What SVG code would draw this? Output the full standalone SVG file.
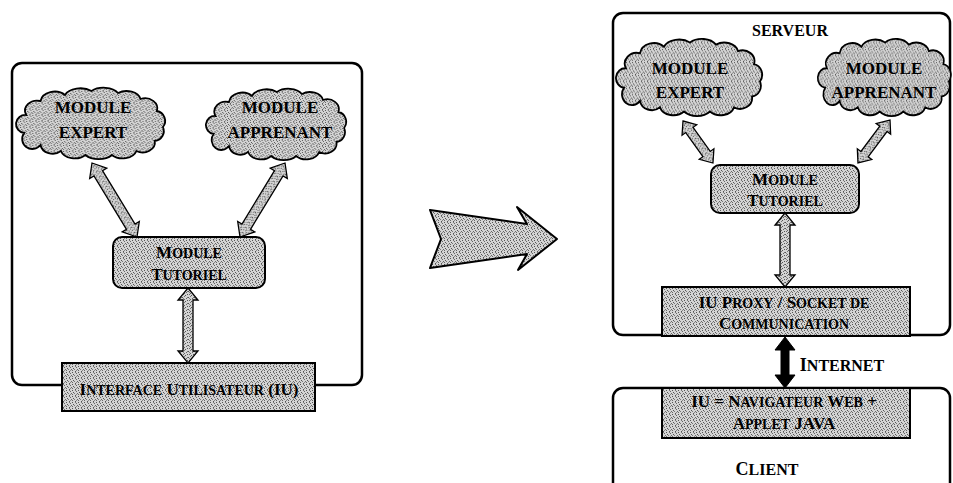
<svg xmlns="http://www.w3.org/2000/svg" width="953" height="483" viewBox="0 0 953 483">
  <defs>
    <pattern id="stip" width="6" height="6" patternUnits="userSpaceOnUse">
      <rect width="6" height="6" fill="#d4d4d4"/>
      <rect x="0" y="0" width="1" height="1" fill="#555"/>
      <rect x="3" y="0" width="1" height="1" fill="#777"/>
      <rect x="4" y="1" width="1" height="1" fill="#666"/>
      <rect x="1" y="2" width="1" height="1" fill="#555"/>
      <rect x="5" y="3" width="1" height="1" fill="#666"/>
      <rect x="2" y="3" width="1" height="1" fill="#777"/>
      <rect x="0" y="4" width="1" height="1" fill="#666"/>
      <rect x="3" y="5" width="1" height="1" fill="#555"/>
      <rect x="4" y="4" width="1" height="1" fill="#888"/>
    </pattern>
    <path id="cloud" d="M12,30 a12,10 0 0 1 14,-14 a14,11 0 0 1 24,-6 a16,10 0 0 1 26,-4 a16,10 0 0 1 26,2 a14,10 0 0 1 22,6 a12,10 0 0 1 16,12 a10,10 0 0 1 6,16 a10,10 0 0 1 -8,14 a12,10 0 0 1 -18,10 a14,10 0 0 1 -24,4 a16,10 0 0 1 -26,0 a14,10 0 0 1 -24,-4 a12,10 0 0 1 -20,-6 a10,10 0 0 1 -16,-12 a9,9 0 0 1 2,-18 Z"/>
  </defs>
  <style>
    .panel { fill: #fff; stroke: #000; stroke-width: 2.5; }
    .box { fill: url(#stip); stroke: #000; stroke-width: 2; }
    .cl { fill: url(#stip); stroke: #000; stroke-width: 1.8; }
    .arr { fill: url(#stip); stroke: #000; stroke-width: 1.3; stroke-linejoin: miter; }
    .blk { fill: #000; stroke: #000; stroke-width: 1; }
    .big { fill: url(#stip); stroke: #000; stroke-width: 2; stroke-linejoin: round; }
    text { font-family: "Liberation Serif", "Times New Roman", serif; font-weight: bold; fill: #000; text-anchor: middle; font-size: 17px; }
    .sm { font-size: 14px; }
  </style>

  <!-- Containers -->
  <g id="left-panel">
    <rect class="panel" x="12" y="63" width="350" height="322" rx="10"/>
  </g>
  <g id="serveur">
    <rect class="panel" x="613" y="13" width="337" height="322" rx="10"/>
    <text x="790" y="36" style="font-size:16px">SERVEUR</text>
  </g>
  <g id="client">
    <rect class="panel" x="613" y="388" width="337" height="130" rx="10"/>
    <text x="767" y="475" style="font-size:18px">C<tspan style="font-size:16px">LIENT</tspan></text>
  </g>

  <g id="connectors">
    <!-- left -->
    <polygon class="arr" transform="translate(92,163) rotate(58.7)" points="0,0 12,-10 12,-5 74.6,-5 74.6,-10 86.6,0 74.6,10 74.6,5 12,5 12,10"/>
    <polygon class="arr" transform="translate(285,163) rotate(121.3)" points="0,0 12,-10 12,-5 74.6,-5 74.6,-10 86.6,0 74.6,10 74.6,5 12,5 12,10"/>
    <polygon class="arr" transform="translate(188,288) rotate(90)" points="0,0 12,-10 12,-5 63,-5 63,-10 75,0 63,10 63,5 12,5 12,10"/>
    <!-- right -->
    <polygon class="arr" transform="translate(683,121) rotate(54.5)" points="0,0 11,-9 11,-4.5 40.6,-4.5 40.6,-9 51.6,0 40.6,9 40.6,4.5 11,4.5 11,9"/>
    <polygon class="arr" transform="translate(890,120) rotate(126.7)" points="0,0 11,-9 11,-4.5 42.6,-4.5 42.6,-9 53.6,0 42.6,9 42.6,4.5 11,4.5 11,9"/>
    <polygon class="arr" transform="translate(785,213) rotate(90)" points="0,0 12,-10 12,-5 62,-5 62,-10 74,0 62,10 62,5 12,5 12,10"/>
    <polygon class="blk" transform="translate(785,337) rotate(90)" points="0,0 13,-10 13,-4 38,-4 38,-10 51,0 38,10 38,4 13,4 13,10"/>
    <!-- big transition arrow -->
    <polygon class="big" points="430,210 527,224 517,207 557,239 518,270 527,254 430,268 441,239"/>
  </g>

  <g id="left-expert">
    <use href="#cloud" class="cl" transform="translate(14,85) scale(1.02,1)"/>
    <text x="93" y="113">MODULE</text>
    <text x="93" y="138">EXPERT</text>
  </g>
  <g id="left-apprenant">
    <use href="#cloud" class="cl" transform="translate(204,86) scale(0.96,1)"/>
    <text x="280" y="113">MODULE</text>
    <text x="280" y="138">APPRENANT</text>
  </g>
  <g id="left-tutoriel">
    <rect class="box" x="113" y="237" width="152" height="51" rx="9"/>
    <text x="189" y="258">M<tspan class="sm">ODULE</tspan></text>
    <text x="189" y="280">T<tspan class="sm">UTORIEL</tspan></text>
  </g>
  <g id="left-interface">
    <rect class="box" x="62" y="363" width="253" height="48"/>
    <text x="189" y="395">I<tspan class="sm">NTERFACE</tspan> U<tspan class="sm">TILISATEUR</tspan> (IU)</text>
  </g>

  <g id="right-expert">
    <use href="#cloud" class="cl" transform="translate(614,36) scale(1.0,1.08)"/>
    <text x="690" y="74">MODULE</text>
    <text x="690" y="98">EXPERT</text>
  </g>
  <g id="right-apprenant">
    <use href="#cloud" class="cl" transform="translate(816,36) scale(0.91,1.08)"/>
    <text x="884" y="74">MODULE</text>
    <text x="884" y="98">APPRENANT</text>
  </g>
  <g id="right-tutoriel">
    <rect class="box" x="711" y="165" width="148" height="48" rx="9"/>
    <text x="785" y="185">M<tspan class="sm">ODULE</tspan></text>
    <text x="785" y="206">T<tspan class="sm">UTORIEL</tspan></text>
  </g>
  <g id="proxy">
    <rect class="box" x="662" y="287" width="248" height="49"/>
    <text x="784" y="308">IU P<tspan class="sm">ROXY</tspan> / S<tspan class="sm">OCKET DE</tspan></text>
    <text x="784" y="329">C<tspan class="sm">OMMUNICATION</tspan></text>
  </g>
  <g id="navigateur">
    <rect class="box" x="662" y="388" width="248" height="50"/>
    <text x="784" y="407">IU = N<tspan class="sm">AVIGATEUR</tspan> W<tspan class="sm">EB</tspan> +</text>
    <text x="784" y="429">A<tspan class="sm">PPLET</tspan> JAVA</text>
  </g>
  <g id="internet-label">
    <text x="842" y="371" style="font-size:18px">I<tspan style="font-size:16px">NTERNET</tspan></text>
  </g>
</svg>
